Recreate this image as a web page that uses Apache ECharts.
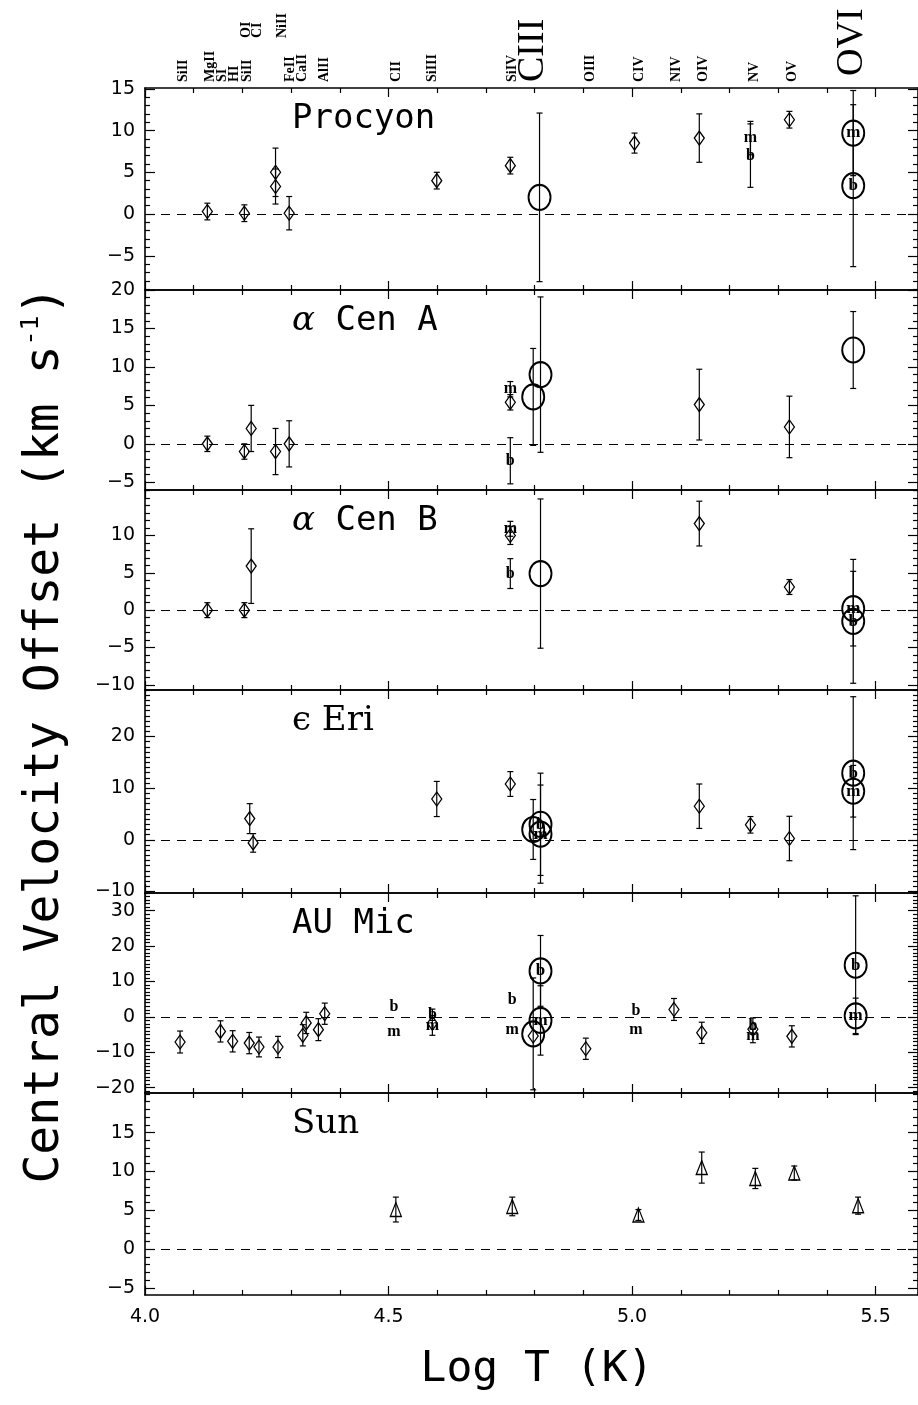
<!DOCTYPE html>
<html>
<head>
<meta charset="utf-8">
<title>Central velocity offsets</title>
<script src="https://cdn.jsdelivr.net/npm/echarts@6.0.0/dist/echarts.min.js"></script>
<style>
html, body { margin: 0; padding: 0; background: #fff; }
#main { width: 918px; height: 1405px; }
</style>
</head>
<body>
<div id="main"></div>
<script>
var myChart = echarts.init(document.getElementById('main'));

// points: [log T, velocity offset (km/s), error, tag]
var procyonDiamonds = [[4.128, 0.3, 1.0], [4.204, 0.1, 1.0], [4.268, 5.0, 2.9], [4.268, 3.3, 2.1], [4.296, 0.1, 2.0],
    [4.599, 4.0, 1.0], [4.750, 5.8, 1.0], [5.005, 8.5, 1.2], [5.138, 9.1, 2.9], [5.323, 11.3, 1.0]];
var procyonCircles = [[4.810, 2.0, 10.1, ''], [5.454, 9.7, 5.1, 'm'], [5.454, 3.4, 9.7, 'b']];
var procyonLetters = [[5.243, 9.1, 2.0, 'm'], [5.243, 7.0, 3.8, 'b']];

var cenADiamonds = [[4.128, 0.0, 1.0], [4.204, -1.0, 1.0], [4.218, 2.0, 3.0], [4.268, -1.0, 3.0], [4.296, 0.0, 3.0],
    [4.750, 5.4, 1.0], [5.138, 5.1, 4.6], [5.323, 2.2, 4.0]];
var cenACircles = [[4.797, 6.1, 6.3, ''], [4.812, 9.0, 10.1, ''], [5.454, 12.2, 5.0, '']];
var cenALetters = [[4.750, 7.1, 1.0, 'm'], [4.750, -2.2, 3.0, 'b']];

var cenBDiamonds = [[4.128, 0.0, 1.0], [4.204, 0.0, 1.0], [4.218, 5.9, 5.0], [4.750, 10.0, 1.2],
    [5.138, 11.6, 3.0], [5.323, 3.1, 1.0]];
var cenBCircles = [[4.812, 4.9, 10.0, ''], [5.454, 0.2, 5.0, 'm'], [5.454, -1.5, 8.3, 'b']];
var cenBLetters = [[4.750, 10.9, 1.0, 'm'], [4.750, 4.9, 2.0, 'b']];

var epsEriDiamonds = [[4.215, 4.1, 2.9], [4.222, -0.6, 1.8], [4.599, 7.9, 3.4], [4.750, 10.8, 2.4],
    [5.138, 6.5, 4.3], [5.243, 2.9, 1.6], [5.323, 0.25, 4.3]];
var epsEriCircles = [[4.797, 2.0, 5.8, ''], [4.812, 3.0, 9.9, 'b'], [4.812, 1.1, 9.5, 'm'],
    [5.454, 12.9, 14.8, 'b'], [5.454, 9.4, 5.0, 'm']];
var epsEriLetters = [];

var auMicDiamonds = [[4.072, -7.1, 3.1], [4.155, -4.1, 3.0], [4.180, -6.9, 3.0], [4.214, -7.4, 3.0], [4.234, -8.5, 2.8],
    [4.273, -8.5, 3.0], [4.324, -5.2, 3.0], [4.331, -1.7, 3.0], [4.356, -3.6, 3.1], [4.369, 0.9, 3.0],
    [4.590, -1.8, 0], [4.797, -5.4, 0], [4.905, -9.0, 3.0], [5.086, 2.1, 3.1], [5.143, -4.5, 3.0],
    [5.248, -3.5, 0], [5.328, -5.5, 3.0]];
var auMicCircles = [[4.797, -4.8, 15.8, ''], [4.812, 13.0, 10.0, 'b'], [4.812, -1.0, 9.8, 'm'],
    [5.459, 14.6, 19.6, 'b'], [5.459, 0.3, 5.0, 'm']];
var auMicLetters = [[4.511, 2.8, 0, 'b'], [4.511, -4.1, 0, 'm'], [4.590, 0.6, 1.6, 'b'], [4.590, -2.4, 2.8, 'm'],
    [4.754, 4.7, 0, 'b'], [4.754, -3.6, 0, 'm'], [5.008, 1.7, 0, 'b'], [5.008, -3.8, 0, 'm'],
    [5.248, -2.6, 2.3, 'b'], [5.248, -5.4, 1.9, 'm']];

var sunTriangles = [[4.515, 5.1, 1.6], [4.754, 5.5, 1.2], [5.013, 4.4, 0.7], [5.143, 10.5, 2.0],
    [5.253, 9.1, 1.3], [5.333, 9.8, 0.9], [5.464, 5.6, 1.1]];

// axis extents and tick labels
var xRange = [4.0, 5.587];
var xMajorTicks = [4.0, 4.5, 5.0, 5.5];
var xMinorTicks = [4.1, 4.2, 4.3, 4.4, 4.6, 4.7, 4.8, 4.9, 5.1, 5.2, 5.3, 5.4];
var procyonRange = [-9.1, 15.1], procyonTicks = [-5, 0, 5, 10, 15];
var cenARange = [-6, 20], cenATicks = [-5, 0, 5, 10, 15, 20];
var cenBRange = [-10.7, 16.1], cenBTicks = [-10, -5, 0, 5, 10];
var epsEriRange = [-10.3, 29], epsEriTicks = [-10, 0, 10, 20];
var auMicRange = [-21.5, 35], auMicTicks = [-20, -10, 0, 10, 20, 30];
var sunRange = [-5.9, 20.1], sunTicks = [-5, 0, 5, 10, 15];

// line identifications along the top
var ionNames = ['SiII', 'MgII', 'SI', 'HI', 'SiII', 'FeII', 'CaII', 'AlII', 'CII', 'SiIII', 'SiIV',
    'OIII', 'CIV', 'NIV', 'OIV', 'NV', 'OV'];
var ionLogT = [4.078, 4.135, 4.159, 4.184, 4.210, 4.299, 4.323, 4.368, 4.517, 4.591, 4.755,
    4.914, 5.016, 5.090, 5.147, 5.252, 5.329];
var upperIonNames = ['OI', 'CI', 'NiII'];
var upperIonLogT = [4.208, 4.231, 4.282];
var bigIonNames = ['CIII', 'OVI'];
var bigIonLogT = [4.797, 5.452];

var panels = [
    {title: 'Procyon', serif: false, range: procyonRange, ticks: procyonTicks,
        open: procyonDiamonds, tri: [], circles: procyonCircles, letters: procyonLetters},
    {title: '{g|α} Cen A', serif: false, range: cenARange, ticks: cenATicks,
        open: cenADiamonds, tri: [], circles: cenACircles, letters: cenALetters},
    {title: '{g|α} Cen B', serif: false, range: cenBRange, ticks: cenBTicks,
        open: cenBDiamonds, tri: [], circles: cenBCircles, letters: cenBLetters},
    {title: 'ϵ Eri', serif: true, range: epsEriRange, ticks: epsEriTicks,
        open: epsEriDiamonds, tri: [], circles: epsEriCircles, letters: epsEriLetters},
    {title: 'AU Mic', serif: false, range: auMicRange, ticks: auMicTicks,
        open: auMicDiamonds, tri: [], circles: auMicCircles, letters: auMicLetters},
    {title: 'Sun', serif: true, range: sunRange, ticks: sunTicks,
        open: [], tri: sunTriangles, circles: [], letters: []}
];

// layout (pixels)
var panelTop = [88, 290, 490, 690, 893, 1093];
var panelHeight = [202, 200, 200, 203, 200, 202];
var plotLeft = 145, plotWidth = 776;

function minusFmt(v) {
    return v < 0 ? '\u2212' + (-v) : String(v);
}

function minorTicks(range, major) {
    var out = [];
    for (var v = Math.ceil(range[0]); v <= Math.floor(range[1]); v++) {
        if (major.indexOf(v) < 0) out.push(v);
    }
    return out;
}

function makeX(gi, pos, ticks, len, isMajor, showLabel) {
    return {
        type: 'value', gridIndex: gi, position: pos, min: xRange[0], max: xRange[1],
        axisLine: {show: isMajor, onZero: false, lineStyle: {color: '#000', width: 1.6}},
        axisTick: {show: true, inside: true, length: len, customValues: ticks, lineStyle: {color: '#000', width: 1.2}},
        axisLabel: {show: showLabel, customValues: xMajorTicks, margin: 13, color: '#000',
            fontSize: 19, fontFamily: 'DejaVu Sans', formatter: function (v) { return v.toFixed(1); }},
        splitLine: {show: false}
    };
}

function makeY(gi, pos, p, ticks, len, isMajor, showLabel) {
    return {
        type: 'value', gridIndex: gi, position: pos, min: p.range[0], max: p.range[1],
        axisLine: {show: isMajor, onZero: false, lineStyle: {color: '#000', width: 1.6}},
        axisTick: {show: true, inside: true, length: len, customValues: ticks, lineStyle: {color: '#000', width: 1.2}},
        axisLabel: {show: showLabel, customValues: p.ticks, margin: 10, color: '#000',
            fontSize: 19, fontFamily: 'DejaVu Sans', formatter: minusFmt},
        splitLine: {show: false}
    };
}

function renderErrorBar(params, api) {
    var x = api.value(0), y = api.value(1), e = api.value(2);
    var hi = api.coord([x, y + e]);
    var lo = api.coord([x, y - e]);
    var cap = 3;
    var st = {stroke: '#000', lineWidth: 1.2};
    return {
        type: 'group',
        children: [
            {type: 'line', shape: {x1: hi[0], y1: hi[1], x2: lo[0], y2: lo[1]}, style: st},
            {type: 'line', shape: {x1: hi[0] - cap, y1: hi[1], x2: hi[0] + cap, y2: hi[1]}, style: st},
            {type: 'line', shape: {x1: lo[0] - cap, y1: lo[1], x2: lo[0] + cap, y2: lo[1]}, style: st}
        ]
    };
}

var grids = [], xAxes = [], yAxes = [], series = [];

panels.forEach(function (p, i) {
    grids.push({left: plotLeft, width: plotWidth, top: panelTop[i], height: panelHeight[i]});
    ['bottom', 'top'].forEach(function (pos) {
        xAxes.push(makeX(i, pos, xMajorTicks, 9, true, pos === 'bottom' && i === panels.length - 1));
        xAxes.push(makeX(i, pos, xMinorTicks, 5, false, false));
    });
    var yMinor = minorTicks(p.range, p.ticks);
    ['left', 'right'].forEach(function (pos) {
        yAxes.push(makeY(i, pos, p, p.ticks, 10, true, pos === 'left'));
        yAxes.push(makeY(i, pos, p, yMinor, 5, false, false));
    });

    var all = p.open.concat(p.tri, p.circles, p.letters);
    var ax = 4 * i;

    series.push({
        type: 'custom', xAxisIndex: ax, yAxisIndex: ax, silent: true, z: 2,
        renderItem: renderErrorBar,
        encode: {x: 0, y: 1},
        data: all.filter(function (d) { return d[2] > 0; }).map(function (d) { return [d[0], d[1], d[2]]; })
    });

    var openData = p.open.map(function (d) { return {value: [d[0], d[1]], symbol: 'diamond', symbolSize: [10, 14]}; })
        .concat(p.tri.map(function (d) { return {value: [d[0], d[1]], symbol: 'triangle', symbolSize: [11, 14]}; }));
    series.push({
        type: 'scatter', xAxisIndex: ax, yAxisIndex: ax, silent: true, z: 3,
        itemStyle: {color: 'rgba(0,0,0,0)', borderColor: '#000', borderWidth: 1.3, opacity: 1},
        emphasis: {disabled: true},
        data: openData,
        markLine: {
            silent: true, symbol: 'none', animation: false,
            label: {show: false},
            lineStyle: {color: '#000', type: [9, 7], width: 1.2, opacity: 1},
            data: [{yAxis: 0}]
        }
    });

    series.push({
        type: 'scatter', xAxisIndex: ax, yAxisIndex: ax, silent: true, z: 4,
        symbol: 'circle', symbolSize: [22, 25],
        itemStyle: {color: 'rgba(0,0,0,0)', borderColor: '#000', borderWidth: 2, opacity: 1},
        emphasis: {disabled: true},
        label: {show: true, position: 'inside', formatter: '{b}', color: '#000',
            fontFamily: 'Liberation Serif', fontSize: 17, fontWeight: 'bold'},
        data: p.circles.map(function (d) { return {value: [d[0], d[1]], name: d[3]}; })
    });

    series.push({
        type: 'scatter', xAxisIndex: ax, yAxisIndex: ax, silent: true, z: 5,
        symbol: 'circle', symbolSize: 1,
        itemStyle: {color: 'rgba(0,0,0,0)', opacity: 1},
        emphasis: {disabled: true},
        label: {show: true, position: 'inside', formatter: '{b}', color: '#000',
            fontFamily: 'Liberation Serif', fontSize: 16, fontWeight: 'bold'},
        data: p.letters.map(function (d) { return {value: [d[0], d[1]], name: d[3]}; })
    });
});

myChart.setOption({
    animation: false,
    backgroundColor: '#fff',
    grid: grids,
    xAxis: xAxes,
    yAxis: yAxes,
    series: series
});

// text annotations
var graphics = [];

function textEl(x, y, rot, text, font, align, extra) {
    var st = {text: text, fill: '#000', font: font, align: align, verticalAlign: 'middle',
        textAlign: align, textVerticalAlign: 'middle'};
    if (extra) st.rich = extra;
    return {type: 'text', x: x, y: y, rotation: rot, silent: true, style: st};
}

function ionLabel(name, logT, bottom, font) {
    var px = myChart.convertToPixel({xAxisIndex: 0}, logT);
    return textEl(px, bottom, Math.PI / 2, name, font, 'left');
}

ionNames.forEach(function (n, k) {
    graphics.push(ionLabel(n, ionLogT[k], 82, 'bold 14px "Liberation Serif"'));
});
upperIonNames.forEach(function (n, k) {
    graphics.push(ionLabel(n, upperIonLogT[k], 38, 'bold 14px "Liberation Serif"'));
});
bigIonNames.forEach(function (n, k) {
    graphics.push(ionLabel(n, bigIonLogT[k], k === 0 ? 82 : 76, '38px "Liberation Serif"'));
});

panels.forEach(function (p, i) {
    var fam = p.serif ? '"DejaVu Serif"' : '"DejaVu Sans Mono"';
    graphics.push(textEl(292, panelTop[i] + 31, 0, p.title, '34px ' + fam, 'left',
        {g: {fontSize: 34, fontFamily: 'DejaVu Serif', fontStyle: 'italic'}}));
});

graphics.push(textEl(46, 735, Math.PI / 2, '{n|Central Velocity Offset (km s}{s|-1}{n|)}',
    '48px "DejaVu Sans Mono"', 'center', {
        n: {fontSize: 48, fontFamily: 'DejaVu Sans Mono', lineHeight: 54},
        s: {fontSize: 25, fontFamily: 'DejaVu Sans Mono', verticalAlign: 'top', lineHeight: 54}
    }));
graphics.push(textEl(537, 1370, 0, 'Log T (K)', '43px "DejaVu Sans Mono"', 'center'));

myChart.setOption({graphic: graphics});
</script>
</body>
</html>
